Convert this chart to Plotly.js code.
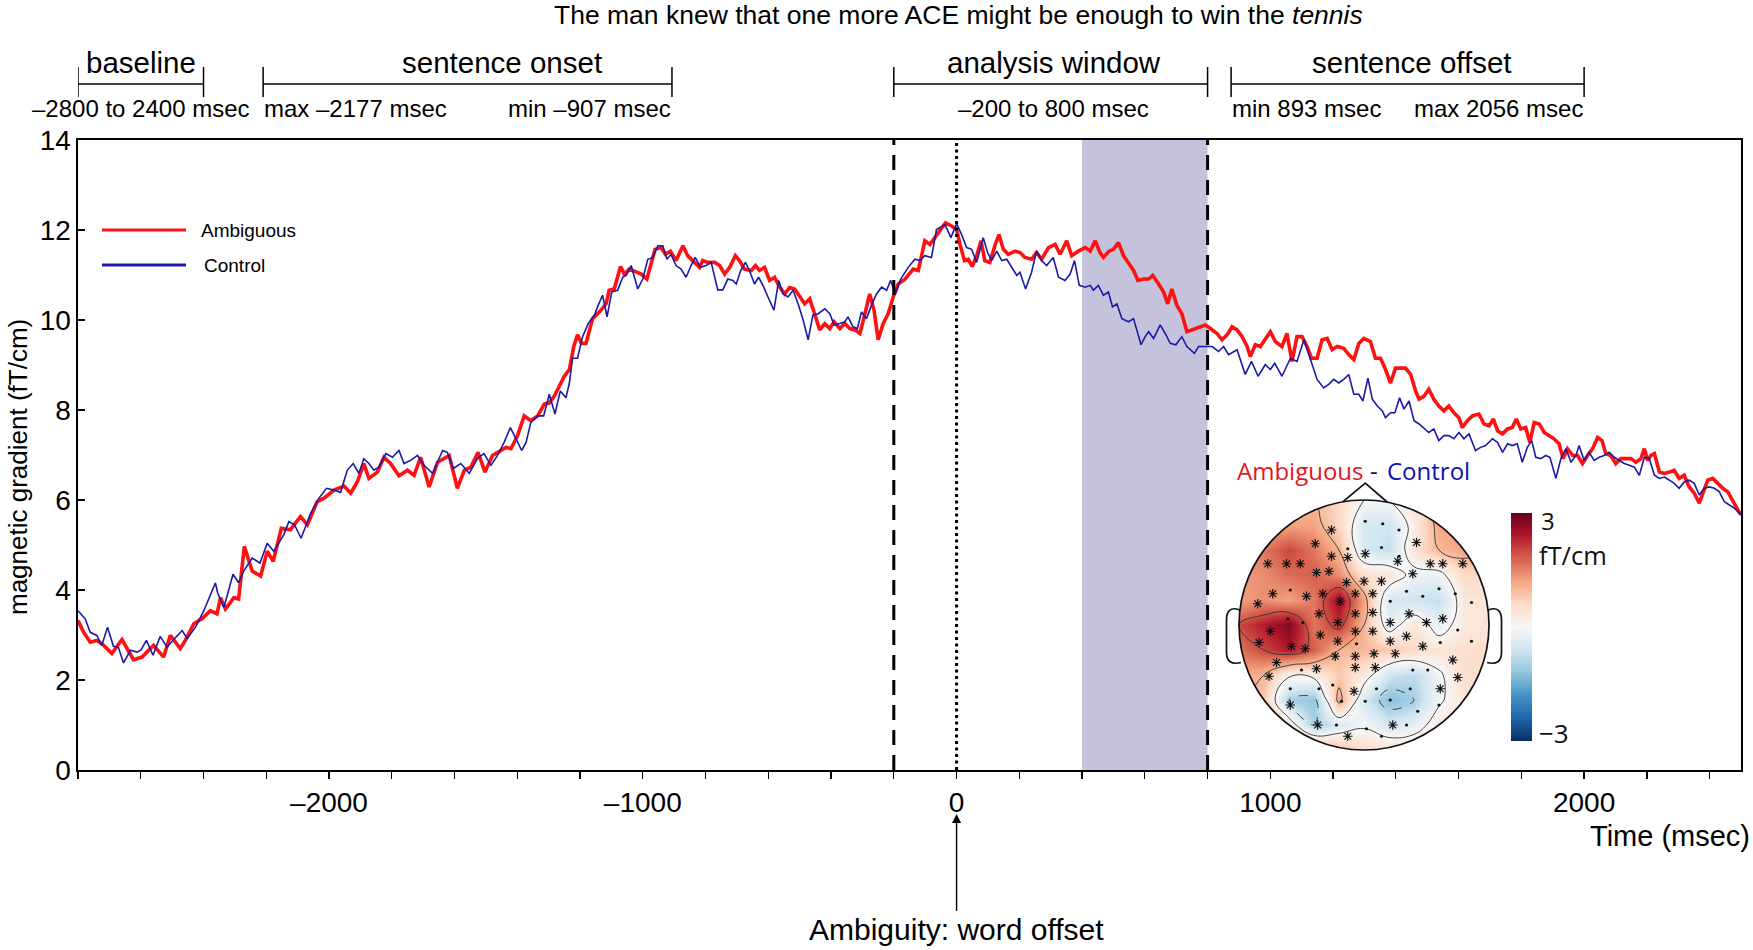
<!DOCTYPE html>
<html><head><meta charset="utf-8">
<script src="https://cdn.plot.ly/plotly-3.0.1.min.js"></script>
<style>html,body{margin:0;padding:0;background:#fff;}#chart{width:1753px;height:950px;}</style>
</head><body><div id="chart"></div>
<script>
// ---------------- DATA ----------------
const sentence = 'The man knew that one more ACE might be enough to win the <i>tennis</i>';

// Ambiguous (red) time course, msec / fT/cm
const ambT = [-2800,-2782,-2761,-2740,-2718,-2692,-2660,-2644,-2623,-2596,-2559,-2527,-2506,-2474,-2458,-2431,-2405,-2378,-2357,-2346,-2330,-2303,-2288,-2270,-2245,-2218,-2197,-2178,-2152,-2123,-2091,-2069,-2038,-2016,-1984,-1952,-1931,-1910,-1889,-1873,-1846,-1825,-1804,-1777,-1750,-1729,-1708,-1681,-1654,-1617,-1591,-1569,-1548,-1525,-1503,-1479,
-1463,-1436,-1420,-1399,-1378,-1357,-1335,-1314,-1298,-1282,-1271,-1250,-1234,-1220,-1208,-1195,-1181,-1160,-1138,-1117,-1107,-1091,-1071,-1059,-1043,-1021,-1005,-987,-974,-961,-942,-928,-912,-894,-872,-857,-841,-819,-809,-793,-771,-755,-739,-723,-705,-692,-676,-654,-641,-628,-612,-596,-580,-564,-548,-532,-516,-500,-484,-468,-452,-436,-420,-404,-390,-372,-356,-340,-324,-308,-293,-277,-263,-250,-234,-218,-202,-186,
-165,-138,-122,-101,-85,-69,-53,-35,-16,0,11,25,37,50,64,78,90,106,122,135,149,165,186,202,218,239,255,271,293,314,330,351,367,388,410,426,442,457,468,486,500,516,532,548,564,578,596,612,625,644,660,673,686,702,718,734,750,771,793,809,830,846,862,878,894,910,926,936,952,968,984,1000,1016,1037,1053,1069,1085,1101,1117,1131,
1149,1165,1181,1197,1213,1234,1250,1266,1282,1298,1319,1335,1351,1367,1383,1399,1415,1431,1447,1463,1474,1490,1505,1521,1537,1553,1569,1585,1601,1612,1628,1644,1665,1681,1697,1711,1724,1740,1756,1771,1784,1798,1814,1827,1841,1857,1873,1888,1904,1920,1933,1947,1963,1979,1995,2011,2027,2043,2057,2069,2085,2101,2117,2133,2149,2165,2181,2192,2202,2213,2224,2240,2256,2272,2287,2303,2319,2335,2351,2367,2380,2394,2410,2426,2442,2458,2474,2490,2500];
const ambV = [3.32,3.06,2.84,2.88,2.77,2.59,2.90,2.70,2.45,2.51,2.77,2.51,2.99,2.70,2.88,3.25,3.36,3.54,3.47,3.83,3.58,3.83,3.80,4.97,4.42,4.31,4.86,4.64,5.37,5.34,5.63,5.45,5.96,6.04,6.22,6.31,6.15,6.40,6.81,6.48,6.62,6.95,6.81,6.54,6.66,6.55,6.95,6.29,6.84,6.99,6.26,6.66,6.73,7.06,6.62,6.99,
7.06,7.17,7.14,7.43,7.87,7.76,7.87,8.13,8.16,8.31,8.46,8.75,8.90,9.41,9.67,9.48,9.48,10.03,10.18,10.36,10.66,10.69,11.19,11.02,11.13,11.06,11.02,10.91,11.24,11.57,11.61,11.46,11.53,11.32,11.65,11.43,11.32,11.17,11.32,11.28,11.28,11.21,11.02,11.17,11.43,11.32,11.13,11.10,11.21,11.10,11.17,10.88,10.95,10.73,10.58,10.72,10.69,10.51,10.36,10.47,10.14,9.78,9.92,9.81,9.96,9.81,9.92,9.81,9.78,9.70,10.11,10.58,10.22,9.56,9.92,10.14,10.51,10.80,
10.90,11.13,11.10,11.76,11.68,11.83,11.98,12.16,12.09,12.01,11.68,11.32,11.35,11.19,11.43,11.76,11.32,11.28,11.65,11.90,11.57,11.46,11.53,11.50,11.39,11.35,11.50,11.35,11.61,11.68,11.46,11.76,11.43,11.53,11.61,11.53,11.76,11.50,11.39,11.53,11.57,11.72,11.43,11.28,11.10,10.88,10.91,10.91,10.99,10.80,10.62,10.36,10.69,10.33,10.14,9.74,9.78,9.85,9.89,9.81,9.70,9.56,9.67,9.85,9.78,9.63,9.41,9.19,9.45,9.41,9.59,9.74,9.52,9.41,9.70,9.08,9.63,9.63,9.41,9.15,
9.15,9.56,9.59,9.34,9.41,9.37,9.23,9.12,9.48,9.59,9.52,9.15,9.15,8.90,8.60,8.93,8.93,8.93,8.79,8.42,8.24,8.31,8.46,8.24,8.09,7.98,8.09,7.94,7.83,7.61,7.76,7.87,7.91,7.69,7.65,7.80,7.54,7.47,7.58,7.61,7.80,7.58,7.61,7.28,7.72,7.69,7.50,7.43,7.36,7.25,6.92,7.14,6.99,6.99,6.81,6.99,7.14,7.39,7.32,7.03,6.99,6.81,6.92,6.92,6.92,6.84,6.92,7.14,6.88,6.99,7.03,6.62,6.59,6.62,6.66,6.48,6.55,6.29,6.15,5.93,6.18,6.44,6.48,6.37,6.26,6.18,5.96,5.78,5.67];

// Control (blue) time course
const conT = [-2800,-2777,-2761,-2740,-2724,-2706,-2687,-2671,-2655,-2633,-2612,-2599,-2582,-2561,-2538,-2516,-2495,-2468,-2452,-2426,-2399,-2378,-2362,-2355,-2335,-2306,-2288,-2272,-2245,-2220,-2197,-2176,-2144,-2128,-2110,-2089,-2059,-2032,-2008,-1984,-1963,-1942,-1923,-1905,-1889,-1873,-1857,-1841,-1819,-1798,-1777,-1761,-1740,-1718,-1697,-1670,-1638,-1623,-1604,-1580,-1553,-1527,-1506,-1484,
-1463,-1442,-1422,-1404,-1386,-1372,-1357,-1335,-1316,-1298,-1280,-1263,-1245,-1234,-1224,-1208,-1192,-1174,-1154,-1142,-1128,-1114,-1099,-1080,-1064,-1053,-1037,-1025,-1016,-1000,-984,-968,-952,-936,-923,-910,-894,-878,-862,-846,-833,-816,-798,-782,-771,-761,-745,-729,-713,-702,-688,-673,-660,-644,-631,-617,-601,-582,-567,-553,-537,-521,-505,-489,-473,-458,-441,-420,-404,-390,-372,-356,-346,-330,-316,-303,-287,-271,-255,-239,-223,-210,-195,-178,
-154,-133,-117,-101,-80,-64,-37,-18,0,16,32,48,64,85,99,112,128,144,160,176,192,202,220,239,255,271,287,308,325,346,362,376,391,410,426,436,452,468,484,497,511,527,548,564,575,588,601,612,628,649,665,681,699,718,734,758,771,793,814,835,851,867,894,920,940,961,984,1000,1014,1037,1064,1085,1107,1128,
1149,1170,1186,1202,1218,1234,1250,1266,1282,1295,1311,1325,1341,1357,1367,1383,1397,1412,1426,1442,1458,1474,1490,1505,1521,1537,1553,1569,1585,1601,1617,1633,1654,1670,1686,1708,1724,1740,1756,1771,1787,1803,1819,1833,1846,1862,1878,1891,1910,1926,1942,1958,1974,1984,2000,2016,2032,2048,2064,2080,2096,2112,2128,2144,2160,2176,2192,2208,2224,2240,2256,2272,2287,2303,2319,2335,2351,2367,2383,2399,2415,2431,2447,2463,2479,2500];
const conV = [3.54,3.36,3.06,2.99,2.77,3.17,2.75,2.72,2.38,2.66,2.62,2.67,2.88,2.55,2.97,2.73,2.90,3.10,2.92,3.17,3.54,3.91,4.16,3.94,3.61,4.35,4.16,4.42,4.71,4.60,5.04,4.86,5.23,5.52,5.45,5.15,5.70,6.04,6.26,6.22,6.17,6.66,6.81,6.59,6.92,6.81,6.66,6.73,7.03,6.95,7.10,6.81,6.88,6.99,6.77,6.59,7.10,7.06,6.70,6.81,6.59,6.92,7.03,6.77,
6.99,7.28,7.61,7.36,7.10,7.28,7.72,7.87,7.87,8.35,7.91,8.42,8.27,8.60,9.15,9.15,9.63,9.92,10.11,10.33,10.55,10.07,10.62,10.66,10.95,10.99,11.21,10.91,10.69,10.91,11.35,11.39,11.65,11.65,11.35,11.46,11.21,11.13,10.95,11.21,11.39,11.17,11.21,11.28,10.99,10.67,10.67,10.91,10.88,10.80,11.10,11.28,11.10,10.80,10.95,10.77,10.51,10.22,10.88,10.58,10.51,10.66,10.36,10.00,9.56,10.11,10.14,10.25,10.14,9.89,9.92,9.96,10.07,9.85,9.81,10.18,10.03,10.33,10.58,10.73,10.66,10.88,10.58,10.91,
11.17,11.35,11.32,11.43,11.39,12.01,12.12,11.83,12.14,11.90,11.61,11.57,11.28,11.83,11.50,11.32,11.53,11.32,11.35,11.17,10.99,11.06,10.69,11.06,11.53,11.32,11.21,11.39,10.95,10.88,11.02,11.32,10.77,10.73,10.77,10.66,10.77,10.55,10.62,10.29,10.36,10.03,9.96,10.03,9.78,9.45,9.63,9.74,9.59,9.89,9.70,9.48,9.45,9.63,9.41,9.26,9.41,9.41,9.41,9.30,9.41,9.23,9.34,8.79,9.08,8.75,9.01,8.90,9.04,8.75,9.15,9.08,9.56,9.12,
8.68,8.49,8.57,8.68,8.60,8.68,8.79,8.35,8.35,8.20,8.71,8.24,8.09,7.98,7.83,7.94,7.94,8.27,8.02,8.20,7.76,7.69,7.58,7.50,7.58,7.32,7.43,7.43,7.36,7.50,7.36,7.47,7.10,7.17,7.21,7.36,7.28,7.06,7.25,7.21,7.25,6.84,7.17,7.32,6.95,6.92,6.99,6.95,6.48,6.92,7.14,6.84,6.99,7.21,6.88,7.06,6.88,6.95,6.99,7.06,6.95,6.88,6.81,6.77,6.73,6.55,6.95,6.92,6.55,6.48,6.51,6.44,6.37,6.26,6.40,6.44,6.37,6.11,6.26,6.29,6.26,6.18,5.96,5.89,5.82,5.67];

// axis ticks
const xTickVals = [-2800,-2600,-2400,-2200,-2000,-1800,-1600,-1400,-1200,-1000,-800,-600,-400,-200,0,200,400,600,800,1000,1200,1400,1600,1800,2000,2200,2400];
const xTickText = ['','','','','–2000','','','','','–1000','','','','','0','','','','','1000','','','','','2000','',''];
const yTickVals = [0,2,4,6,8,10,12,14];

// epochs (brackets above the plot)
const epochNames = ['baseline','sentence onset','analysis window','sentence offset'];
const epochStart = [-2800,-2210,-200,875];
const epochEnd   = [-2400,-907,800,2000];
const epochLabelX = [-2600,-1450,310,1450];
const subText  = ['–2800 to 2400 msec','max –2177 msec','min –907 msec','–200 to 800 msec','min 893 msec','max 2056 msec'];
const subX     = [-2600,-2210,-907,310,875,2000];
const subAlign = ['center','left','right','center','left','right'];

// markers in the time axis
const windowEdges = [-200, 800];
const wordOffset = 0;
const shadeRange = [400, 800];

// topography (Ambiguous - Control), head coordinates, fT/cm
const topoU = [-1,-0.8,-0.6,-0.4,-0.2,0,0.2,0.4,0.6,0.8,1];
const topoV = [-1,-0.8,-0.6,-0.4,-0.2,0,0.2,0.4,0.6,0.8,1];
const topoZ = [
 [1.6, 1.6, 1.6, 1.4, 1.0, 0.6, 0.5, 0.5, 0.5, 0.5, 0.5],
 [1.4, 1.4, 0.4,-1.0,-0.5,-0.1,-0.5,-0.3, 0.3, 0.4, 0.5],
 [1.2, 0.8,-1.0,-1.2, 1.2,-0.5,-1.3,-1.0,-0.1, 0.4, 0.5],
 [1.2, 1.0, 0.1, 0.2, 0.8, 0.3,-0.6,-0.8,-0.1, 0.5, 0.5],
 [1.6, 2.0, 2.4, 1.8, 1.0, 1.0, 0.8, 0.6, 0.4, 0.5, 0.5],
 [2.0, 2.4, 2.8, 1.6, 2.2, 1.0,-0.3, 0.4,-0.3, 0.3, 0.4],
 [1.2, 1.4, 1.2, 1.6, 2.6, 1.2,-0.5,-0.6,-0.7, 0.3, 0.4],
 [1.3, 1.4, 1.7, 1.8, 1.4, 0.5, 0.4,-0.2,-0.2, 0.6, 0.6],
 [1.4, 1.6, 2.0, 1.6, 1.0,-0.5,-0.7, 0.4, 1.0, 1.2, 1.0],
 [1.2, 1.2, 1.2, 1.2, 0.6,-0.5,-0.6, 0.2, 1.2, 1.3, 1.2],
 [1.0, 1.0, 1.0, 1.0, 0.6, 0.0, 0.0, 0.6, 1.2, 1.2, 1.2]
];
const starU = [-0.26,-0.39,0.42,-0.26,-0.13,0.01,-0.77,-0.62,-0.51,-0.38,-0.28,0.27,0.39,0.53,0.63,0.79,-0.14,0.00,0.14,-0.85,-0.73,-0.46,-0.33,-0.19,-0.07,0.07,-0.36,-0.21,-0.07,0.07,0.21,0.36,0.50,0.63,-0.75,-0.84,-0.58,-0.47,-0.35,-0.21,-0.07,0.07,0.21,0.34,0.47,-0.23,-0.07,0.08,0.25,-0.70,-0.38,-0.07,0.09,0.71,-0.76,0.75,-0.08,0.61,-0.59,-0.37,0.23,-0.13];
const starV = [0.76,0.65,0.66,0.55,0.54,0.57,0.49,0.49,0.49,0.42,0.43,0.51,0.41,0.49,0.49,0.49,0.34,0.35,0.35,0.17,0.25,0.23,0.25,0.19,0.25,0.25,0.09,0.02,0.09,0.10,0.02,0.09,0.02,0.05,-0.05,-0.14,-0.17,-0.19,-0.08,-0.13,-0.05,-0.05,-0.13,-0.09,-0.17,-0.25,-0.25,-0.23,-0.23,-0.30,-0.35,-0.34,-0.34,-0.28,-0.41,-0.42,-0.53,-0.51,-0.64,-0.80,-0.80,-0.89];
const dotU = [0.01,0.15,0.28,-0.13,0.14,0.28,-0.59,0.34,0.47,0.60,0.73,0.86,0.21,-0.49,-0.61,0.75,0.86,-0.50,-0.25,-0.59,-0.36,-0.18,0.39,0.51,0.37,0.21,0.43,0.60,-0.22,0.02,0.14,0.34,0.61,-0.06,0.10,0.01];
const dotV = [0.83,0.81,0.76,0.61,0.62,0.55,0.28,0.27,0.23,0.29,0.25,0.18,0.19,0.02,0.05,-0.04,-0.13,-0.36,-0.48,-0.51,-0.51,-0.61,-0.36,-0.36,-0.51,-0.60,-0.69,-0.64,-0.80,-0.83,-0.89,-0.80,-0.14,-0.15,-0.51,-0.61];

// ---------------- LAYOUT HELPERS ----------------
const W = 1753, H = 950;
const M = {l: 78, r: 12, t: 140, b: 180};
const PW = W - M.l - M.r, PH = H - M.t - M.b;
const fx = px => (px - M.l) / PW;
const fy = py => 1 - (py - M.t) / PH;

const FONT = 'Liberation Sans, Arial, Helvetica, sans-serif';
const TOPO_FONT = 'Open Sans, DejaVu Sans, sans-serif';
const RED = '#ff1111', BLUE = '#1a1aa8';

// head geometry (pixels)
const HC = {x: 1364, y: 625, r: 125};
const X2R = [-1.25, 1.25], Y2R = [-1.1, 1.25];

const rdbu = [[0,'#053061'],[0.1,'#2166ac'],[0.2,'#4393c3'],[0.3,'#92c5de'],[0.4,'#d1e5f0'],[0.5,'#f7f7f7'],[0.6,'#fddbc7'],[0.7,'#f4a582'],[0.8,'#d6604d'],[0.9,'#b2182b'],[1,'#67001f']];

// ---------------- TRACES ----------------
const traces = [
  {x: ambT, y: ambV, type: 'scatter', mode: 'lines', name: 'Ambiguous',
   line: {color: RED, width: 3.6}, hoverinfo: 'skip'},
  {x: conT, y: conV, type: 'scatter', mode: 'lines', name: 'Control',
   line: {color: BLUE, width: 1.6}, hoverinfo: 'skip'},
  {x: topoU, y: topoV, z: topoZ, type: 'contour', xaxis: 'x2', yaxis: 'y2',
   colorscale: rdbu, zmin: -3, zmax: 3, zauto: false,
   contours: {coloring: 'heatmap', start: 0, end: 2, size: 1, showlines: false},
   line: {width: 0},
   colorbar: {x: fx(1511), xanchor: 'left', xpad: 0, y: fy(627), yanchor: 'middle', ypad: 0,
              len: 228, lenmode: 'pixels', thickness: 21, outlinewidth: 0,
              showticklabels: false, ticks: ''},
   hoverinfo: 'skip'},
  {x: topoU, y: topoV, z: topoZ, type: 'contour', xaxis: 'x2', yaxis: 'y2',
   showscale: false, contours: {coloring: 'none', start: 0, end: 2, size: 1},
   line: {color: '#333', width: 0.9, smoothing: 1.2}, hoverinfo: 'skip'},
  {x: topoU, y: topoV, z: topoZ, type: 'contour', xaxis: 'x2', yaxis: 'y2',
   showscale: false, contours: {coloring: 'none', start: -1, end: -1, size: 0.5},
   line: {color: '#333', width: 0.9, dash: 'dash', smoothing: 1.2}, hoverinfo: 'skip'},
  {x: dotU, y: dotV, type: 'scatter', mode: 'markers', xaxis: 'x2', yaxis: 'y2',
   marker: {symbol: 'circle', size: 3.2, color: '#111'}, hoverinfo: 'skip', showlegend: false},
  {x: starU, y: starV, type: 'scatter', mode: 'markers', xaxis: 'x2', yaxis: 'y2',
   marker: {symbol: 'asterisk-open', size: 8, color: '#111', line: {color: '#111', width: 1.2}},
   hoverinfo: 'skip', showlegend: false}
];

// ---------------- SHAPES ----------------
const shapes = [];
shapes.push({type: 'rect', xref: 'x', yref: 'paper', x0: shadeRange[0], x1: shadeRange[1], y0: 0, y1: 1,
  fillcolor: 'rgb(197,195,220)', line: {width: 0}, layer: 'below'});
windowEdges.forEach(t => shapes.push({type: 'line', xref: 'x', yref: 'paper', x0: t, x1: t, y0: 0, y1: 1,
  line: {color: '#000', width: 3, dash: '15px,10px'}}));
shapes.push({type: 'line', xref: 'x', yref: 'paper', x0: wordOffset, x1: wordOffset, y0: 0, y1: 1,
  line: {color: '#000', width: 3, dash: '3px,3.5px'}});
const bLine = fy(84), bTop = fy(67), bBot = fy(97);
epochNames.forEach((n, i) => {
  shapes.push({type: 'line', xref: 'x', yref: 'paper', x0: epochStart[i], x1: epochEnd[i], y0: bLine, y1: bLine, line: {color: '#000', width: 1.5}});
  shapes.push({type: 'line', xref: 'x', yref: 'paper', x0: epochStart[i], x1: epochStart[i], y0: bBot, y1: bTop, line: {color: '#000', width: 1.5}});
  shapes.push({type: 'line', xref: 'x', yref: 'paper', x0: epochEnd[i], x1: epochEnd[i], y0: bBot, y1: bTop, line: {color: '#000', width: 1.5}});
});
shapes.push({type: 'line', xref: 'paper', yref: 'paper', x0: fx(102), x1: fx(186), y0: fy(230), y1: fy(230), line: {color: RED, width: 3}});
shapes.push({type: 'line', xref: 'paper', yref: 'paper', x0: fx(102), x1: fx(186), y0: fy(265), y1: fy(265), line: {color: BLUE, width: 3}});
const k = 0.5523;
const circ = `M 1,0 C 1,${k} ${k},1 0,1 C ${-k},1 -1,${k} -1,0 C -1,${-k} ${-k},-1 0,-1 C ${k},-1 1,${-k} 1,0 Z`;
shapes.push({type: 'path', xref: 'x2', yref: 'y2', path: `M -1.14,-1.1 L 1.14,-1.1 L 1.14,1.14 L -1.14,1.14 Z ` + circ,
  fillcolor: '#ffffff', fillrule: 'evenodd', line: {width: 0}, layer: 'above'});
shapes.push({type: 'path', xref: 'x2', yref: 'y2', path: circ, line: {color: '#111', width: 1.7}, fillcolor: 'rgba(0,0,0,0)', layer: 'above'});
shapes.push({type: 'path', xref: 'x2', yref: 'y2', path: 'M -0.17,0.985 L 0.01,1.135 L 0.19,0.98', line: {color: '#111', width: 1.7}, layer: 'above'});
shapes.push({type: 'path', xref: 'x2', yref: 'y2', path: 'M -0.995,0.12 C -1.07,0.15 -1.10,0.11 -1.10,0.04 L -1.10,-0.22 C -1.10,-0.29 -1.06,-0.32 -0.985,-0.30', line: {color: '#111', width: 1.7}, layer: 'above'});
shapes.push({type: 'path', xref: 'x2', yref: 'y2', path: 'M 0.995,0.12 C 1.07,0.15 1.10,0.11 1.10,0.04 L 1.10,-0.22 C 1.10,-0.29 1.06,-0.32 0.985,-0.30', line: {color: '#111', width: 1.7}, layer: 'above'});

// ---------------- ANNOTATIONS ----------------
const ann = [];
const txt = (text, x, y, opts) => Object.assign({text, x, y, showarrow: false, xref: 'paper', yref: 'paper',
  xanchor: 'center', yanchor: 'middle', borderpad: 0, font: {family: FONT, size: 24, color: '#000'}}, opts || {});
ann.push(txt(sentence, fx(959), fy(15), {font: {family: FONT, size: 26.5, color: '#000'}}));
epochNames.forEach((n, i) => ann.push(txt(n, epochLabelX[i], fy(62), {xref: 'x', font: {family: FONT, size: 29.5, color: '#000'}})));
subText.forEach((s, i) => ann.push(txt(s, subX[i], fy(109), {xref: 'x', xanchor: subAlign[i], font: {family: FONT, size: 24, color: '#000'}})));
ann.push(txt('magnetic gradient (fT/cm)', fx(18), fy(467), {textangle: -90, font: {family: FONT, size: 26, color: '#000'}}));
ann.push(txt('Time (msec)', fx(1751), fy(836), {xanchor: 'right', font: {family: FONT, size: 29, color: '#000'}}));
ann.push({text: 'Ambiguity: word offset', x: wordOffset, y: fy(814), xref: 'x', yref: 'paper', showarrow: true,
  ax: 0, ay: 115, arrowhead: 2, arrowsize: 1.3, arrowwidth: 1.4, arrowcolor: '#000',
  font: {family: FONT, size: 30, color: '#000'}});
ann.push(txt('Ambiguous', fx(200), fy(231), {xanchor: 'left', font: {family: FONT, size: 19, color: '#000'}}));
ann.push(txt('Control', fx(203), fy(265), {xanchor: 'left', font: {family: FONT, size: 19, color: '#000'}}));
ann.push(txt('Ambiguous', fx(1364), fy(470), {xanchor: 'right', font: {family: TOPO_FONT, size: 24, color: '#e8141c'}}));
ann.push(txt('-', fx(1374), fy(470), {font: {family: TOPO_FONT, size: 24, color: '#111'}}));
ann.push(txt('Control', fx(1386), fy(470), {xanchor: 'left', font: {family: TOPO_FONT, size: 24, color: '#1010b4'}}));
ann.push(txt('3', fx(1540), fy(520), {xanchor: 'left', font: {family: TOPO_FONT, size: 24, color: '#111'}}));
ann.push(txt('fT/cm', fx(1538), fy(555), {xanchor: 'left', font: {family: TOPO_FONT, size: 25.5, color: '#111'}}));
ann.push(txt('−3', fx(1538), fy(733), {xanchor: 'left', font: {family: TOPO_FONT, size: 26, color: '#111'}}));

// ---------------- LAYOUT ----------------
const layout = {
  width: W, height: H, margin: M, showlegend: false,
  paper_bgcolor: '#fff', plot_bgcolor: 'rgba(0,0,0,0)',
  font: {family: FONT, color: '#000'},
  xaxis: {range: [-2800, 2500], tickmode: 'array', tickvals: xTickVals, ticktext: xTickText,
          ticks: 'outside', ticklen: 7, tickwidth: 1.3, tickcolor: '#000',
          showline: true, linecolor: '#000', linewidth: 1.6, mirror: true,
          showgrid: false, zeroline: false, tickfont: {family: FONT, size: 28, color: '#000'}, fixedrange: true},
  yaxis: {range: [0, 14], tickmode: 'array', tickvals: yTickVals,
          ticks: 'inside', ticklen: 7, tickwidth: 1.3, tickcolor: '#000',
          showline: true, linecolor: '#000', linewidth: 1.6, mirror: true,
          showgrid: false, zeroline: false, tickfont: {family: FONT, size: 28, color: '#000'}, fixedrange: true},
  xaxis2: {domain: [fx(HC.x + X2R[0] * HC.r), fx(HC.x + X2R[1] * HC.r)], range: X2R, anchor: 'y2',
           visible: false, showgrid: false, zeroline: false, fixedrange: true},
  yaxis2: {domain: [fy(HC.y - Y2R[0] * HC.r), fy(HC.y - Y2R[1] * HC.r)], range: Y2R, anchor: 'x2',
           visible: false, showgrid: false, zeroline: false, fixedrange: true},
  shapes: shapes, annotations: ann
};

Plotly.newPlot('chart', traces, layout, {displayModeBar: false, staticPlot: true});
</script></body></html>
